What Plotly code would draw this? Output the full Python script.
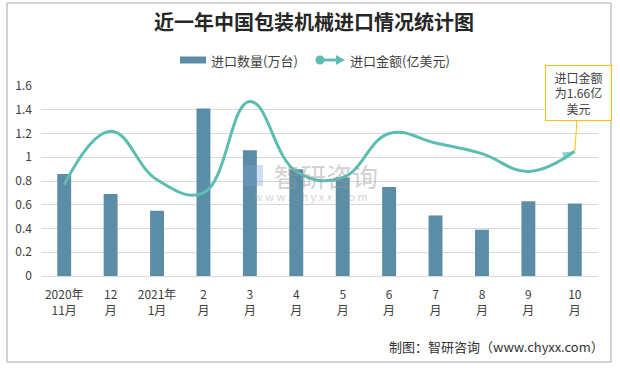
import plotly.graph_objects as go

categories = ["2020年<br>11月", "12<br>月", "2021年<br>1月", "2<br>月", "3<br>月", "4<br>月",
              "5<br>月", "6<br>月", "7<br>月", "8<br>月", "9<br>月", "10<br>月"]
quantity = [0.86, 0.69, 0.55, 1.41, 1.06, 0.90, 0.83, 0.75, 0.51, 0.39, 0.63, 0.61]
amount = [0.77, 1.22, 0.81, 0.70, 1.47, 0.88, 0.83, 1.20, 1.12, 1.03, 0.88, 1.05]
y_ticks = [0, 0.2, 0.4, 0.6, 0.8, 1, 1.2, 1.4, 1.6]
series_names = ["进口数量(万台)", "进口金额(亿美元)"]

FONT = "Noto Sans CJK SC"
BAR_COLOR = "#5B8EA6"
LINE_COLOR = "#5CBDB3"
GOLD = "#FFC000"

n = len(categories)
symbols = ["circle"] + ["circle"] * (n - 2) + ["arrow"]
sizes = [10] + [0] * (n - 2) + [13]

fig = go.Figure()
fig.add_trace(go.Bar(
    x=categories, y=quantity, name=series_names[0],
    marker=dict(color=BAR_COLOR, line=dict(width=0)),
))
fig.add_trace(go.Scatter(
    x=categories, y=amount, name=series_names[1], mode="lines+markers",
    line=dict(color=LINE_COLOR, width=3, shape="spline", smoothing=1.2),
    marker=dict(color=LINE_COLOR, symbol=symbols, size=sizes, angleref="previous",
                line=dict(width=0)),
))

L, R, T, B = 41, 22, 86, 92
W, H = 620, 368
pw, ph = W - L - R, H - T - B

def px(x):
    return (x - L) / pw

def py(y):
    return (H - B - y) / ph

fig.update_layout(
    width=W, height=H,
    margin=dict(l=L, r=R, t=T, b=B, autoexpand=False),
    paper_bgcolor="white", plot_bgcolor="white",
    font=dict(family=FONT, color="#404040", size=12),
    title=dict(text="<b>近一年中国包装机械进口情况统计图</b>", x=px(314), xref="paper",
               xanchor="center", y=1 - 23 / H, yanchor="middle",
               font=dict(family=FONT, size=20, color="#262626")),
    bargap=0.7,
    showlegend=False,
    hovermode=False,
    xaxis=dict(type="category", range=[-0.5, n - 0.5], showgrid=False, automargin=False,
               showline=True, linecolor="#D9D9D9", ticks="", ticklabelstandoff=8,
               tickfont=dict(size=12, color="#404040")),
    yaxis=dict(range=[0, 1.6], tickvals=y_ticks, ticktext=[f"{v:g}" for v in y_ticks],
               showgrid=True, gridcolor="#D9D9D9", gridwidth=1, zeroline=False,
               automargin=False, showline=False, ticks="", ticklabelstandoff=8,
               tickfont=dict(size=12, color="#404040")),
)

# outer frame
fig.add_shape(type="rect", xref="paper", yref="paper",
              x0=px(7), x1=px(611), y0=py(362), y1=py(3),
              line=dict(color="#A6A6A6", width=1), layer="below")

# custom legend
fig.add_shape(type="rect", xref="paper", yref="paper",
              x0=px(180), x1=px(206), y0=py(63.5), y1=py(56.5),
              line=dict(width=0), fillcolor=BAR_COLOR)
fig.add_annotation(xref="paper", yref="paper", x=px(209), y=py(60), xanchor="left",
                   yanchor="middle", text=series_names[0], showarrow=False,
                   font=dict(size=13, color="#404040"))
fig.add_shape(type="line", xref="paper", yref="paper",
              x0=px(320), x1=px(338), y0=py(60), y1=py(60),
              line=dict(color=LINE_COLOR, width=3))
fig.add_shape(type="circle", xref="paper", yref="paper",
              x0=px(315.5), x1=px(324.5), y0=py(64.5), y1=py(55.5),
              line=dict(width=0), fillcolor=LINE_COLOR)
fig.add_shape(type="path", xref="paper", yref="paper",
              path=f"M {px(336)} {py(55)} L {px(345)} {py(60)} L {px(336)} {py(65)} Z",
              line=dict(width=0), fillcolor=LINE_COLOR)
fig.add_annotation(xref="paper", yref="paper", x=px(348), y=py(60), xanchor="left",
                   yanchor="middle", text=series_names[1], showarrow=False,
                   font=dict(size=13, color="#404040"))

# watermark
fig.add_annotation(xref="paper", yref="paper", x=px(326), y=py(175), text="智研咨询",
                   showarrow=False, font=dict(size=26, color="rgba(150,150,150,0.45)"))
fig.add_annotation(xref="paper", yref="paper", x=px(311), y=py(196),
                   text="w w w . c h y x x . c o m", showarrow=False,
                   font=dict(size=11, color="rgba(150,150,150,0.45)"))
fig.add_shape(type="rect", xref="paper", yref="paper", x0=px(243), x1=px(263),
              y0=py(186), y1=py(165), line=dict(width=0),
              fillcolor="rgba(120,160,210,0.35)")

# callout
fig.add_annotation(x=categories[-1], y=amount[-1], xref="x", yref="y",
                   text="进口金额<br>为1.66亿<br>美元", showarrow=True,
                   arrowhead=0, arrowcolor=GOLD, arrowwidth=1,
                   ax=4, ay=-58, bordercolor=GOLD, borderwidth=1,
                   bgcolor="white", borderpad=2, width=61, height=50,
                   font=dict(size=12, color="#404040"))

# source
fig.add_annotation(xref="paper", yref="paper", x=px(606), y=py(346), xanchor="right",
                   yanchor="middle", text="制图：智研咨询（www.chyxx.com）", showarrow=False,
                   font=dict(size=13, color="#333333"))

fig.write_html("out.html", config={"displayModeBar": False},
               post_script="document.body.style.margin='0';document.body.style.overflow='hidden';")
